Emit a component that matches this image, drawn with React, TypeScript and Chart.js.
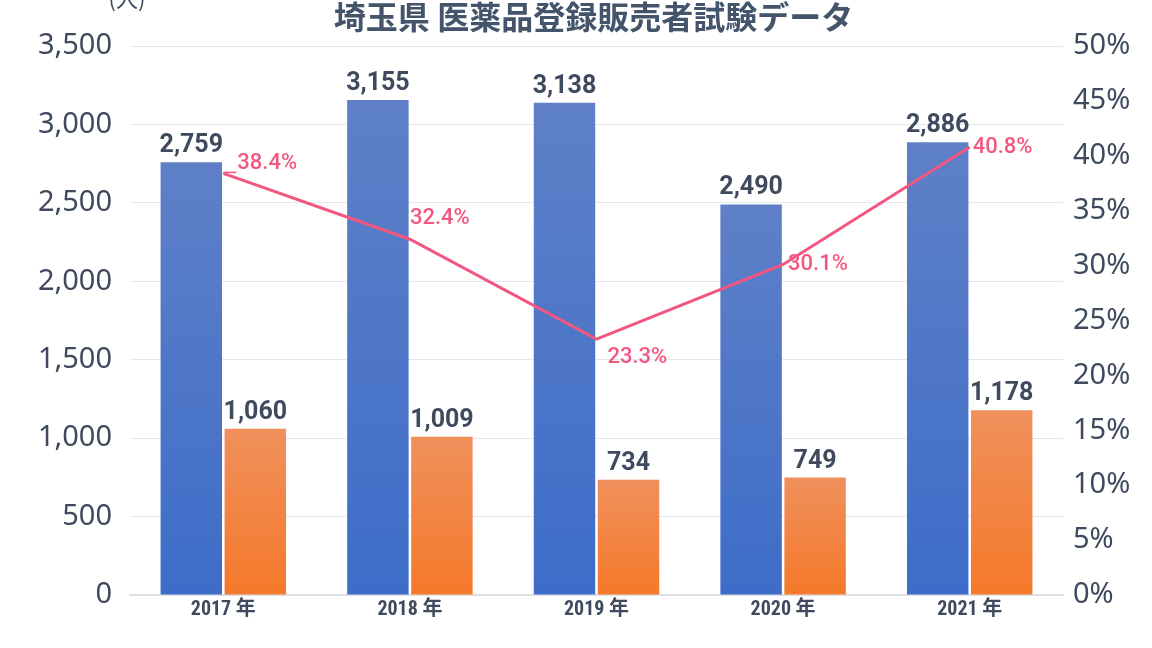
import React, { useEffect, useRef } from "react";
import { Chart, registerables } from "chart.js";

Chart.register(...registerables);

const categories = ["2017 年", "2018 年", "2019 年", "2020 年", "2021 年"];
const applicants = [2759, 3155, 3138, 2490, 2886];
const passers = [1060, 1009, 734, 749, 1178];
const passRate = [38.4, 32.4, 23.3, 30.1, 40.8];
const leftTicks = { min: 0, max: 3500, step: 500 };
const rightTicks = { min: 0, max: 50, step: 5 };
const titleText = "埼玉県 医薬品登録販売者試験データ";
const unitText = "(人)";

// label offsets for the rate labels (style, not data)
const rateLabelOffsets: [number, number][] = [
  [14, -10],
  [0, -21],
  [11, 18],
  [5, 0],
  [3, 0],
];

const TEXT = "#3F4A5E";
const PINK = "#F2587F";

function barGradient(top: string, bottom: string) {
  return (ctx: any) => {
    const chart = ctx.chart;
    if (!chart.chartArea || ctx.raw == null) return bottom;
    const ys = chart.scales.y;
    const y = ys.getPixelForValue(ctx.raw);
    const b = ys.getPixelForValue(0);
    const g = chart.ctx.createLinearGradient(0, y, 0, b);
    g.addColorStop(0, top);
    g.addColorStop(1, bottom);
    return g;
  };
}

const labelPlugin = {
  id: "customLabels",
  afterDatasetsDraw(chart: any) {
    const ctx = chart.ctx;
    ctx.save();
    [0, 1].forEach((di) => {
      const meta = chart.getDatasetMeta(di);
      const data = chart.data.datasets[di].data as number[];
      meta.data.forEach((el: any, i: number) => {
        ctx.font = "bold 25px Roboto, 'Noto Sans', sans-serif";
        ctx.fillStyle = TEXT;
        ctx.textAlign = "center";
        ctx.textBaseline = "alphabetic";
        ctx.fillText(data[i].toLocaleString("en-US"), el.x, el.y - 10);
      });
    });
    const lmeta = chart.getDatasetMeta(2);
    lmeta.data.forEach((pt: any, i: number) => {
      const [dx, dy] = rateLabelOffsets[i];
      ctx.font = "500 22px Roboto, 'Noto Sans', sans-serif";
      ctx.fillStyle = PINK;
      ctx.textAlign = "left";
      ctx.textBaseline = "middle";
      ctx.fillText(passRate[i].toFixed(1) + "%", pt.x + dx, pt.y + dy);
      if (i === 0) {
        ctx.strokeStyle = PINK;
        ctx.lineWidth = 1.5;
        ctx.beginPath();
        ctx.moveTo(pt.x, pt.y - 1);
        ctx.lineTo(pt.x + dx - 1, pt.y - 1);
        ctx.stroke();
      }
    });
    ctx.restore();
  },
  afterDraw(chart: any) {
    const ctx = chart.ctx;
    const ca = chart.chartArea;
    ctx.save();
    ctx.fillStyle = "#44546A";
    ctx.font = "bold 32px 'Noto Sans CJK JP', sans-serif";
    ctx.textAlign = "center";
    ctx.textBaseline = "middle";
    ctx.fillText(titleText, (ca.left + ca.right) / 2 - 3, 17);
    ctx.font = "22px 'Noto Sans CJK JP', sans-serif";
    ctx.fillStyle = TEXT;
    ctx.fillText(unitText, 127, -1);
    ctx.restore();
  },
};

export default function App() {
  const ref = useRef<HTMLCanvasElement | null>(null);
  useEffect(() => {
    document.body.style.margin = "0";
    const canvas = ref.current!;
    const chart = new Chart(canvas, {
      type: "bar",
      data: {
        labels: categories,
        datasets: [
          {
            type: "bar",
            label: "受験者数",
            data: applicants,
            backgroundColor: barGradient("#5F80C7", "#3D6DC9"),
            categoryPercentage: 0.686,
            barPercentage: 0.96,
            yAxisID: "y",
            order: 1,
          },
          {
            type: "bar",
            label: "合格者数",
            data: passers,
            backgroundColor: barGradient("#F0905C", "#F5792A"),
            categoryPercentage: 0.686,
            barPercentage: 0.96,
            yAxisID: "y",
            order: 1,
          },
          {
            type: "line",
            label: "合格率",
            data: passRate,
            borderColor: PINK,
            borderWidth: 3,
            pointRadius: 0,
            tension: 0,
            yAxisID: "y1",
            order: 0,
          } as any,
        ],
      },
      options: {
        animation: false,
        responsive: false,
        devicePixelRatio: 1,
        layout: { padding: { top: 46, left: 0, right: 0, bottom: 0 } },
        plugins: {
          legend: { display: false },
          title: { display: false },
          tooltip: { enabled: false },
        },
        scales: {
          x: {
            grid: { display: false, drawTicks: false },
            border: { display: true, color: "#DEDEE6", width: 2 },
            ticks: {
              color: TEXT,
              padding: 3,
              font: { family: "'Liberation Sans Narrow', 'Roboto Condensed', 'Noto Sans CJK JP', sans-serif", size: 20, weight: "bold" },
            },
            afterFit(scale: any) {
              scale.height = 53;
            },
          },
          y: {
            position: "left",
            min: leftTicks.min,
            max: leftTicks.max,
            grid: { color: "#E6E6EE", lineWidth: 1, drawTicks: false },
            border: { display: false },
            ticks: {
              stepSize: leftTicks.step,
              color: TEXT,
              padding: 18,
              font: { family: "'Noto Sans', sans-serif", size: 29 },
              callback: (v: any) => Number(v).toLocaleString("en-US"),
            },
            afterFit(scale: any) {
              scale.width = 130;
            },
          },
          y1: {
            position: "right",
            min: rightTicks.min,
            max: rightTicks.max,
            grid: { display: false, drawTicks: false },
            border: { display: false },
            ticks: {
              stepSize: rightTicks.step,
              color: TEXT,
              padding: 10,
              font: { family: "'Noto Sans', sans-serif", size: 29 },
              callback: (v: any) => v + "%",
            },
            afterFit(scale: any) {
              scale.width = 89;
            },
          },
        },
      } as any,
      plugins: [labelPlugin],
    });
    return () => chart.destroy();
  }, []);
  return (
    <div style={{ width: 1152, height: 648 }}>
      <canvas ref={ref} width={1152} height={648} style={{ display: "block" }} />
    </div>
  );
}
